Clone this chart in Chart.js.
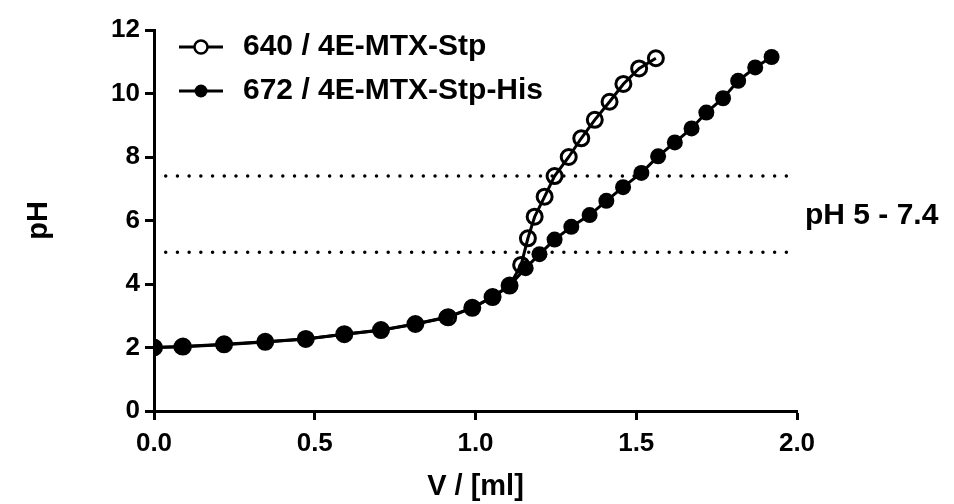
<!DOCTYPE html>
<html>
<head>
<meta charset="utf-8">
<script src="https://cdn.jsdelivr.net/npm/chart.js@4.4.1/dist/chart.umd.min.js"></script>
<style>
  html, body { margin: 0; padding: 0; background: #fff; }
  #wrap { width: 954px; height: 504px; }
</style>
</head>
<body>
<div id="wrap"><canvas id="titration"></canvas></div>
<script>
// 640 / 4E-MTX-Stp  (open circles)
var volOpen = [0, 0.09, 0.218, 0.346, 0.472, 0.592, 0.706, 0.813, 0.915, 0.99, 1.053, 1.106,
	1.142, 1.163, 1.184, 1.215, 1.246, 1.29, 1.329, 1.371, 1.417, 1.46, 1.509, 1.561];
var phOpen = [2.0, 2.03, 2.1, 2.18, 2.27, 2.42, 2.55, 2.74, 2.95, 3.25, 3.59, 3.95,
	4.6, 5.44, 6.12, 6.75, 7.4, 8.0, 8.59, 9.17, 9.74, 10.3, 10.79, 11.11];

// 672 / 4E-MTX-Stp-His  (filled circles)
var volFilled = [0, 0.085, 0.216, 0.346, 0.472, 0.592, 0.706, 0.813, 0.909, 0.99, 1.055, 1.106,
	1.156, 1.199, 1.246, 1.298, 1.355, 1.407, 1.459, 1.516, 1.568, 1.62, 1.672, 1.718,
	1.77, 1.817, 1.87, 1.921];
var phFilled = [2.0, 2.02, 2.09, 2.17, 2.27, 2.42, 2.54, 2.74, 2.95, 3.25, 3.6, 3.95,
	4.5, 4.94, 5.4, 5.8, 6.17, 6.62, 7.05, 7.5, 8.02, 8.46, 8.9, 9.4,
	9.85, 10.4, 10.82, 11.15];

var seriesNames = ['640 / 4E-MTX-Stp', '672 / 4E-MTX-Stp-His'];

// dotted pH window
var phWindow = [5, 7.4];
var windowVol = [0, 1.985];
var windowLabel = 'pH 5 - 7.4';

var xTitle = 'V / [ml]';
var yTitle = 'pH';

var FONT = '"Liberation Sans", Arial, sans-serif';

function toPoints(xs, ys) {
	return xs.map(function(x, i) { return { x: x, y: ys[i] }; });
}

function dottedLine(level) {
	return {
		label: 'pH ' + level,
		data: windowVol.map(function(v) { return { x: v, y: level }; }),
		borderColor: '#000',
		borderWidth: 3.5,
		borderDash: [0.01, 11.7],
		borderCapStyle: 'round',
		pointRadius: 0,
		order: 3
	};
}

// legend inside the plot + range label on the right
var overlay = {
	id: 'overlay',
	afterDraw: function(chart) {
		var ctx = chart.ctx, area = chart.chartArea, ys = chart.scales.y;
		ctx.save();
		ctx.fillStyle = '#000';
		ctx.strokeStyle = '#000';
		ctx.font = 'bold 30px ' + FONT;
		ctx.textBaseline = 'middle';
		[0, 1].forEach(function(i) {
			var ds = chart.data.datasets[i];
			var y = area.top + 17 + i * 44;
			var x0 = area.left + 25;
			ctx.lineWidth = 3;
			ctx.beginPath(); ctx.moveTo(x0, y); ctx.lineTo(x0 + 44, y); ctx.stroke();
			ctx.beginPath(); ctx.arc(x0 + 22, y, 6.5, 0, Math.PI * 2);
			if (ds.pointBackgroundColor === '#000') { ctx.fill(); }
			else { ctx.fillStyle = '#fff'; ctx.fill(); ctx.fillStyle = '#000'; ctx.lineWidth = 2.5; ctx.stroke(); }
			ctx.fillText(ds.label, area.left + 89, y);
		});
		ctx.fillText(windowLabel, area.right + 8, ys.getPixelForValue((phWindow[0] + phWindow[1]) / 2) + 2);
		ctx.restore();
	}
};

var ctx = document.getElementById('titration').getContext('2d');
var chart = new Chart(ctx, {
	type: 'line',
	data: {
		datasets: [{
			label: seriesNames[0],
			data: toPoints(volOpen, phOpen),
			borderColor: '#000',
			borderWidth: 3,
			pointRadius: 7.5,
			pointBorderWidth: 3,
			pointBorderColor: '#000',
			pointBackgroundColor: 'transparent',
			order: 1
		}, {
			label: seriesNames[1],
			data: toPoints(volFilled, phFilled),
			borderColor: '#000',
			borderWidth: 3,
			pointRadius: 8,
			pointBorderWidth: 0,
			pointBackgroundColor: '#000',
			order: 2
		}, dottedLine(phWindow[0]), dottedLine(phWindow[1])]
	},
	options: {
		responsive: true,
		maintainAspectRatio: false,
		animation: false,
		layout: { padding: { left: 0, top: 30, right: 157, bottom: 0 } },
		plugins: {
			legend: { display: false },
			tooltip: { enabled: false }
		},
		scales: {
			x: {
				type: 'linear',
				min: 0,
				max: 2,
				afterFit: function(s) { s.height = 93; },
				ticks: {
					stepSize: 0.5,
					color: '#000',
					padding: 8,
					font: { family: FONT, size: 26, weight: 'bold' },
					callback: function(v) { return v.toFixed(1); }
				},
				grid: { drawOnChartArea: false, tickLength: 9, tickWidth: 3, tickColor: '#000' },
				border: { color: '#000', width: 3 },
				title: {
					display: true,
					text: xTitle,
					color: '#000',
					padding: { top: 0, bottom: 0 },
					font: { family: FONT, size: 29, weight: 'bold' }
				}
			},
			y: {
				min: 0,
				max: 12,
				afterFit: function(s) { s.width = 154; },
				ticks: {
					stepSize: 2,
					color: '#000',
					padding: 5,
					font: { family: FONT, size: 26, weight: 'bold' }
				},
				grid: { drawOnChartArea: false, tickLength: 9, tickWidth: 3, tickColor: '#000' },
				border: { color: '#000', width: 3 },
				title: {
					display: true,
					text: yTitle,
					color: '#000',
					padding: { top: 22, bottom: 0 },
					font: { family: FONT, size: 29, weight: 'bold' }
				}
			}
		}
	},
	plugins: [overlay]
});
</script>
</body>
</html>
